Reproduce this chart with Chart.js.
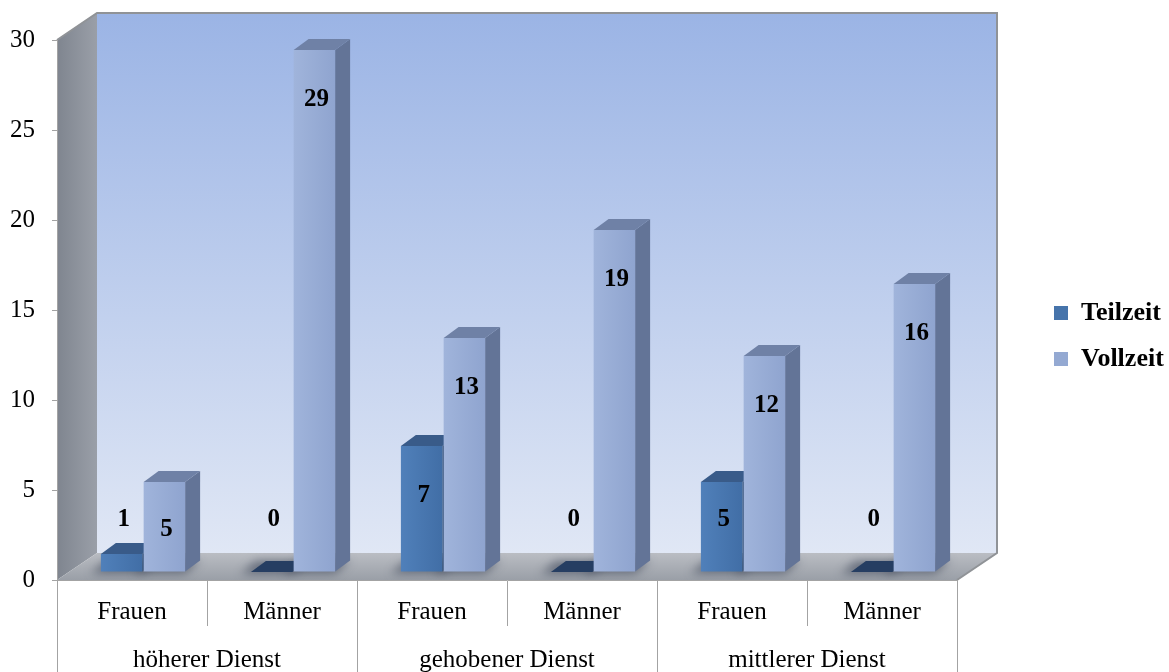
<!DOCTYPE html>
<html>
<head>
<meta charset="utf-8">
<script src="https://cdn.jsdelivr.net/npm/chart.js@4.4.0/dist/chart.umd.min.js"></script>
<style>
  html, body { margin: 0; padding: 0; background: #fff; }
  #wrap { width: 1169px; height: 672px; }
</style>
</head>
<body>
<div id="wrap"><canvas id="chart"></canvas></div>
<script>
const subCategories = ['Frauen', 'Männer', 'Frauen', 'Männer', 'Frauen', 'Männer'];
const groups = ['höherer Dienst', 'gehobener Dienst', 'mittlerer Dienst'];
const teilzeit = [1, 0, 7, 0, 5, 0];
const vollzeit = [5, 29, 13, 19, 12, 16];
const yTicks = [0, 5, 10, 15, 20, 25, 30];

const serif = "'Liberation Serif', 'Times New Roman', serif";
const lineGrey = '#a3a3a3';
const depth = { dx: 15, dy: -11 };   // depth of each 3d bar
const shift = { dx: 11, dy: -8 };    // bars stand a little behind the front edge
const wall = { dx: 40, dy: -27 };    // back wall offset
const labelLift = [60, 50];          // how far above the base a short bar's label sits

const faces = [
  { front: ['#5080ba', '#416ea6'], top: '#395b89', zeroTop: '#263e62', side: '#2e4a70' },
  { front: ['#a0b4db', '#8fa4cf'], top: '#6f81a6', zeroTop: '#56688c', side: '#637497' }
];

function floorPath(ctx, a) {
  ctx.beginPath();
  ctx.moveTo(a.left, a.bottom);
  ctx.lineTo(a.left + wall.dx, a.bottom + wall.dy);
  ctx.lineTo(a.right + wall.dx, a.bottom + wall.dy);
  ctx.lineTo(a.right, a.bottom);
  ctx.closePath();
}

function drawShadow(ctx, p) {
  const l = p.x - p.width / 2 + shift.dx, r = p.x + p.width / 2 + shift.dx;
  const b = p.base + shift.dy;
  ctx.beginPath();
  ctx.moveTo(l - 10, b + 2);
  ctx.lineTo(l - 10 + depth.dx, b + depth.dy);
  ctx.lineTo(r + depth.dx, b + depth.dy);
  ctx.lineTo(r, b + 2);
  ctx.closePath();
  ctx.fill();
}

function drawBar(ctx, p, f) {
  const l = p.x - p.width / 2 + shift.dx, r = p.x + p.width / 2 + shift.dx;
  const t = p.y + shift.dy, b = p.base + shift.dy;
  const flat = b - t < 0.5;

  ctx.fillStyle = f.side;
  ctx.beginPath();
  ctx.moveTo(r, t); ctx.lineTo(r + depth.dx, t + depth.dy);
  ctx.lineTo(r + depth.dx, b + depth.dy); ctx.lineTo(r, b);
  ctx.closePath(); ctx.fill();

  ctx.fillStyle = flat ? f.zeroTop : f.top;
  ctx.beginPath();
  ctx.moveTo(l, t); ctx.lineTo(l + depth.dx, t + depth.dy);
  ctx.lineTo(r + depth.dx, t + depth.dy); ctx.lineTo(r, t);
  ctx.closePath(); ctx.fill();

  if (!flat) {
    const g = ctx.createLinearGradient(l, 0, r, 0);
    g.addColorStop(0, f.front[0]);
    g.addColorStop(1, f.front[1]);
    ctx.fillStyle = g;
    ctx.fillRect(l, t, r - l, b - t);
  }
}

const scene3d = {
  id: 'scene3d',
  beforeDraw(chart) {
    const { ctx, chartArea: a } = chart;
    const bx = a.left + wall.dx, br = a.right + wall.dx;
    const by = a.top + wall.dy, bb = a.bottom + wall.dy;
    ctx.save();

    // back wall
    let g = ctx.createLinearGradient(0, by, 0, bb);
    g.addColorStop(0, '#9bb4e5');
    g.addColorStop(1, '#e0e7f5');
    ctx.fillStyle = g;
    ctx.fillRect(bx, by, br - bx, bb - by);

    // left wall
    g = ctx.createLinearGradient(a.left, 0, bx, 0);
    g.addColorStop(0, '#7f858f');
    g.addColorStop(1, '#9a9fa8');
    ctx.fillStyle = g;
    ctx.beginPath();
    ctx.moveTo(a.left, a.top); ctx.lineTo(bx, by); ctx.lineTo(bx, bb); ctx.lineTo(a.left, a.bottom);
    ctx.closePath(); ctx.fill();

    // floor
    g = ctx.createLinearGradient(0, bb, 0, a.bottom);
    g.addColorStop(0, '#babdc3');
    g.addColorStop(1, '#9a9fa7');
    ctx.fillStyle = g;
    floorPath(ctx, a);
    ctx.fill();

    // wall edges
    ctx.strokeStyle = '#909397';
    ctx.lineWidth = 2;
    ctx.beginPath();
    ctx.moveTo(a.left, a.top); ctx.lineTo(bx, by); ctx.lineTo(br, by); ctx.lineTo(br, bb); ctx.lineTo(a.right, a.bottom);
    ctx.stroke();
    ctx.restore();
  },
  beforeDatasetsDraw(chart) {
    const { ctx, chartArea } = chart;
    const metas = [chart.getDatasetMeta(0), chart.getDatasetMeta(1)];
    const props = metas.map(meta => meta.data.map(el => el.getProps(['x', 'y', 'base', 'width'], true)));

    // soft shadows on the floor
    ctx.save();
    floorPath(ctx, chartArea);
    ctx.clip();
    ctx.filter = 'blur(5px)';
    ctx.fillStyle = 'rgba(45, 55, 75, 0.55)';
    props.forEach(list => list.forEach(p => drawShadow(ctx, p)));
    ctx.restore();

    ctx.save();
    subCategories.forEach((_, i) => {
      props.forEach((list, d) => drawBar(ctx, list[i], faces[d]));
    });
    ctx.restore();
    return false;
  },
  afterDraw(chart) {
    const { ctx } = chart;
    ctx.save();
    ctx.font = 'bold 25px ' + serif;
    ctx.fillStyle = '#000';
    ctx.textAlign = 'center';
    ctx.textBaseline = 'middle';
    chart.data.datasets.forEach((ds, d) => {
      chart.getDatasetMeta(d).data.forEach((el, i) => {
        const p = el.getProps(['x', 'y', 'base'], true);
        const y = Math.min(p.y + 42, p.base - labelLift[d]);
        ctx.fillText(String(ds.data[i]), p.x + shift.dx + 2, y);
      });
    });
    ctx.restore();
  }
};

const tickFont = { family: serif, size: 25 };

new Chart(document.getElementById('chart'), {
  type: 'bar',
  data: {
    labels: subCategories,
    datasets: [
      { label: 'Teilzeit', data: teilzeit, backgroundColor: '#4674ab' },
      { label: 'Vollzeit', data: vollzeit, backgroundColor: '#94a9d2' }
    ]
  },
  options: {
    responsive: true,
    maintainAspectRatio: false,
    animation: false,
    categoryPercentage: 0.57,
    barPercentage: 0.97,
    layout: { padding: 0 },
    plugins: {
      title: { display: true, text: '', padding: { top: 30, bottom: 0 }, font: { size: 10, lineHeight: 1 } },
      tooltip: { enabled: false },
      legend: {
        position: 'right',
        maxWidth: 135,
        labels: {
          boxWidth: 14,
          boxHeight: 14,
          padding: 20,
          color: '#000',
          font: { family: serif, size: 26, weight: 'bold' }
        }
      }
    },
    scales: {
      x: {
        offset: true,
        grid: { offset: true, drawOnChartArea: false, tickLength: 46, color: lineGrey },
        border: { color: lineGrey },
        ticks: { padding: -29, color: '#000', font: tickFont },
        afterFit: s => { s.height = 46; }
      },
      x2: {
        type: 'category',
        labels: groups,
        position: 'bottom',
        offset: true,
        grid: { offset: true, drawOnChartArea: false, tickLength: 46, color: lineGrey },
        border: { display: false },
        ticks: { padding: -27, color: '#000', font: tickFont },
        afterFit: s => { s.height = 46; }
      },
      y: {
        min: yTicks[0],
        max: yTicks[yTicks.length - 1],
        ticks: { stepSize: yTicks[1] - yTicks[0], padding: 17, color: '#000', font: tickFont },
        grid: { drawOnChartArea: false, tickLength: 5, color: lineGrey },
        border: { color: lineGrey },
        afterFit: s => { s.width = 57; }
      },
      y2: {
        position: 'right',
        ticks: { display: false },
        grid: { display: false },
        border: { display: false },
        afterFit: s => { s.width = 77; }
      }
    }
  },
  plugins: [scene3d]
});
</script>
</body>
</html>
